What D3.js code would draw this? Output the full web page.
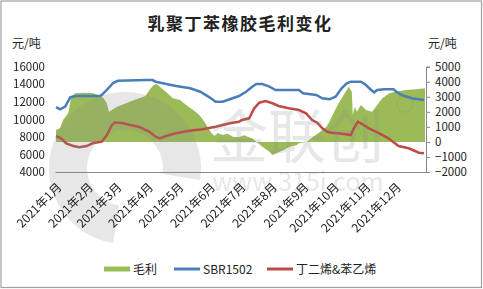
<!DOCTYPE html>
<html lang="zh">
<head>
<meta charset="utf-8">
<title>乳聚丁苯橡胶毛利变化</title>
<script src="https://cdn.jsdelivr.net/npm/d3@7"></script>
<style>
  body { margin: 0; background: #fff; }
  text { font-family: "Noto Sans CJK SC", "DejaVu Sans", sans-serif; }
</style>
</head>
<body>
<script>
// month labels on x axis
var months = ["2021年1月","2021年2月","2021年3月","2021年4月","2021年5月","2021年6月",
              "2021年7月","2021年8月","2021年9月","2021年10月","2021年11月","2021年12月"];

// SBR1502 price (left axis)
var sbrDates = ["2021-01-02","2021-01-06","2021-01-11","2021-01-16","2021-01-21","2021-02-14","2021-02-16",
  "2021-02-21","2021-02-24","2021-02-27","2021-03-04","2021-04-01","2021-04-07","2021-04-10","2021-04-17",
  "2021-04-30","2021-05-14","2021-05-24","2021-06-02","2021-06-08","2021-06-15","2021-06-22","2021-07-01",
  "2021-07-08","2021-07-14","2021-07-18","2021-07-24","2021-07-31","2021-08-06","2021-08-29","2021-09-02",
  "2021-09-15","2021-09-21","2021-09-28","2021-10-04","2021-10-10","2021-10-15","2021-10-19","2021-10-29",
  "2021-11-03","2021-11-08","2021-11-11","2021-11-14","2021-11-21","2021-11-30","2021-12-03","2021-12-08",
  "2021-12-18","2021-12-30"];
var sbrValues = [11400,11150,11450,12500,12650,12650,12780,
  13350,13720,14140,14400,14480,14480,14290,14110,
  13800,13540,13150,12510,12010,12010,12285,12660,
  13150,13720,14030,14030,13720,13345,13345,12970,
  12775,12400,12285,12580,13540,14110,14290,14290,
  13915,13345,13080,13345,13425,13425,13150,12775,
  12400,12205];

// butadiene & styrene cost (left axis)
var feedDates = ["2021-01-02","2021-01-07","2021-01-12","2021-01-19","2021-01-25","2021-02-01","2021-02-07",
  "2021-02-16","2021-02-21","2021-02-26","2021-03-01","2021-03-09","2021-03-16","2021-03-24","2021-03-28",
  "2021-03-31","2021-04-04","2021-04-10","2021-04-14","2021-04-20","2021-04-30","2021-05-13","2021-05-26",
  "2021-06-08","2021-06-22","2021-07-01","2021-07-04","2021-07-11","2021-07-16","2021-07-21","2021-07-27",
  "2021-08-03","2021-08-09","2021-08-19","2021-08-29","2021-09-05","2021-09-11","2021-09-16","2021-09-21",
  "2021-09-26","2021-09-30","2021-10-07","2021-10-19","2021-10-22","2021-10-26","2021-10-30","2021-11-06",
  "2021-11-16","2021-11-25","2021-12-05","2021-12-15","2021-12-25","2021-12-30"];
var feedValues = [8100,7840,7270,6960,6815,6960,7270,
  7450,8215,9355,9665,9550,9355,9160,8980,
  8785,8590,8020,7840,8100,8410,8705,8865,
  9160,9550,9730,9925,10120,11260,11900,12090,
  11830,11520,11260,11065,10690,9925,9620,8980,
  8590,8480,8410,8215,8980,9730,9470,8980,
  8410,7840,6960,6700,6200,6130];

// gross margin (right axis)
var marginDates = ["2021-01-02","2021-01-06","2021-01-09","2021-01-14","2021-01-17","2021-01-21","2021-01-29",
  "2021-02-08","2021-02-17","2021-02-21","2021-02-23","2021-02-26","2021-03-03","2021-03-12","2021-03-22",
  "2021-03-31","2021-04-04","2021-04-08","2021-04-11","2021-04-14","2021-04-20","2021-04-27","2021-05-04",
  "2021-05-10","2021-05-17","2021-05-23","2021-05-28","2021-05-31","2021-06-04","2021-06-07","2021-06-10",
  "2021-06-15","2021-06-20","2021-06-25","2021-07-01","2021-07-06","2021-07-11","2021-07-14","2021-07-18",
  "2021-07-24","2021-07-31","2021-08-03","2021-08-10","2021-08-14","2021-08-19","2021-08-27","2021-08-29",
  "2021-09-06","2021-09-12","2021-09-19","2021-09-25","2021-09-28","2021-10-02","2021-10-07","2021-10-11",
  "2021-10-14","2021-10-17","2021-10-20","2021-10-21","2021-10-23","2021-10-25","2021-10-29","2021-11-03",
  "2021-11-09","2021-11-14","2021-11-19","2021-11-26","2021-12-02","2021-12-12","2021-12-22","2021-12-31"];
var marginValues = [800,925,1460,1900,3000,3230,3270,
  3230,2970,2570,2010,2120,2340,2570,2830,
  3050,3450,3780,3850,3670,3340,2900,2790,
  2450,2120,1790,1340,1010,570,390,600,
  460,550,350,310,450,310,240,10,
  -320,-650,-870,-650,-540,-360,-200,-90,
  10,350,680,1010,1340,1900,2570,3010,
  3340,3670,3340,1790,2340,2010,2450,2120,
  2010,2450,2900,3230,3340,3450,3500,3560];

var leftTicks = [4000,6000,8000,10000,12000,14000,16000];
var rightTicks = [-2000,-1000,0,1000,2000,3000,4000,5000];

var w = 483, h = 289;
var plotLeft = 55, plotRight = 426, plotTop = 66.7, plotBottom = 172;

var parse = d3.timeParse("%Y-%m-%d");
var zip = function(ds, vs){ return ds.map(function(d,i){ return {date: parse(d), value: vs[i]}; }); };
var sbr = zip(sbrDates, sbrValues);
var feed = zip(feedDates, feedValues);
var margin = zip(marginDates, marginValues);

var x = d3.scaleTime()
  .domain([new Date(2021,0,1), new Date(2022,0,1)])
  .range([plotLeft, plotRight]);
var yL = d3.scaleLinear().domain([4000,16000]).range([plotBottom, plotTop]);
var yR = d3.scaleLinear().domain([-2000,5000]).range([plotBottom, plotTop]);

var svg = d3.select("body").append("svg")
  .attr("width", w).attr("height", h);

svg.append("rect")
  .attr("x",1).attr("y",1).attr("width",480.5).attr("height",286.5)
  .attr("fill","#fff").attr("stroke","#a0a0a0").attr("stroke-width",1.2);

// title
svg.append("text")
  .attr("x", 240).attr("y", 30)
  .attr("text-anchor","middle")
  .attr("font-size","17px")
  .attr("font-weight","bold")
  .attr("letter-spacing","1.5px")
  .attr("fill","#222")
  .text("乳聚丁苯橡胶毛利变化");

svg.append("text").attr("x",12).attr("y",48).attr("font-size","12px").attr("fill","#222").text("元/吨");
svg.append("text").attr("x",428).attr("y",48).attr("font-size","12px").attr("fill","#222").text("元/吨");

// margin area
var area = d3.area()
  .x(function(d){ return x(d.date); })
  .y0(yR(0))
  .y1(function(d){ return yR(d.value); });

svg.append("path")
  .datum(margin)
  .attr("fill","#9bbb59")
  .attr("d", area);

var lineL = d3.line()
  .x(function(d){ return x(d.date); })
  .y(function(d){ return yL(d.value); });

svg.append("path")
  .datum(sbr)
  .attr("fill","none")
  .attr("stroke","#4a7ebb")
  .attr("stroke-width",2.5)
  .attr("d", lineL);

svg.append("path")
  .datum(feed)
  .attr("fill","none")
  .attr("stroke","#be4b48")
  .attr("stroke-width",2.5)
  .attr("d", lineL);

// watermark
var wm = svg.append("g").attr("fill","#888").attr("opacity",0.2);
wm.append("path")
  .attr("transform","translate(125,168)")
  .attr("d", d3.arc().innerRadius(38).outerRadius(76).startAngle(-Math.PI*0.95).endAngle(Math.PI*0.55)());
wm.append("text")
  .attr("x",297).attr("y",158)
  .attr("text-anchor","middle")
  .attr("font-size","58px")
  .text("金联创");
wm.append("text")
  .attr("x",298).attr("y",191)
  .attr("text-anchor","middle")
  .attr("font-family","Liberation Sans")
  .attr("font-size","25px")
  .text("www.315i.com");
wm.append("circle")
  .attr("cx",405).attr("cy",104).attr("r",8)
  .attr("fill","none").attr("stroke","#888").attr("stroke-width",1.5);

// left axis
var gL = svg.append("g")
  .attr("transform","translate(" + plotLeft + ",0)")
  .call(d3.axisLeft(yL).tickValues(leftTicks).tickSize(0).tickPadding(10).tickFormat(d3.format("d")));
gL.select(".domain").remove();
gL.selectAll("text").attr("font-size","11.5px").attr("fill","#222").style("font-family","Noto Sans CJK SC");

// right axis
var gR = svg.append("g")
  .attr("transform","translate(" + plotRight + ",0)")
  .call(d3.axisRight(yR).tickValues(rightTicks).tickSize(4).tickPadding(5).tickFormat(d3.format("d")));
gR.selectAll(".domain, line").attr("stroke","#888");
gR.selectAll("text").attr("font-size","11.5px").attr("fill","#222").style("font-family","Noto Sans CJK SC");

// bottom axis
var monthStarts = months.map(function(m,i){ return new Date(2021,i,1); });
var gB = svg.append("g")
  .attr("transform","translate(0," + plotBottom + ")")
  .call(d3.axisBottom(x).tickValues(monthStarts).tickSize(0).tickFormat(function(d,i){ return months[i]; }));
gB.select(".domain").attr("stroke","#888");
gB.selectAll("text")
  .attr("x",0).attr("y",0).attr("dy",0)
  .attr("text-anchor","end")
  .attr("transform","translate(7,16) rotate(-45)")
  .attr("font-size","12px").attr("fill","#222")
  .style("font-family","Noto Sans CJK SC");

// legend
var legend = [
  {name:"毛利", color:"#9bbb59", x:104, width:5},
  {name:"SBR1502", color:"#4a7ebb", x:174, width:3},
  {name:"丁二烯&苯乙烯", color:"#be4b48", x:267, width:3}
];
var lg = svg.append("g");
legend.forEach(function(d){
  lg.append("line")
    .attr("x1",d.x).attr("x2",d.x+26).attr("y1",269).attr("y2",269)
    .attr("stroke",d.color).attr("stroke-width",d.width);
  lg.append("text")
    .attr("x",d.x+29).attr("y",274)
    .attr("font-size","12px").attr("fill","#222")
    .text(d.name);
});
</script>
</body>
</html>
